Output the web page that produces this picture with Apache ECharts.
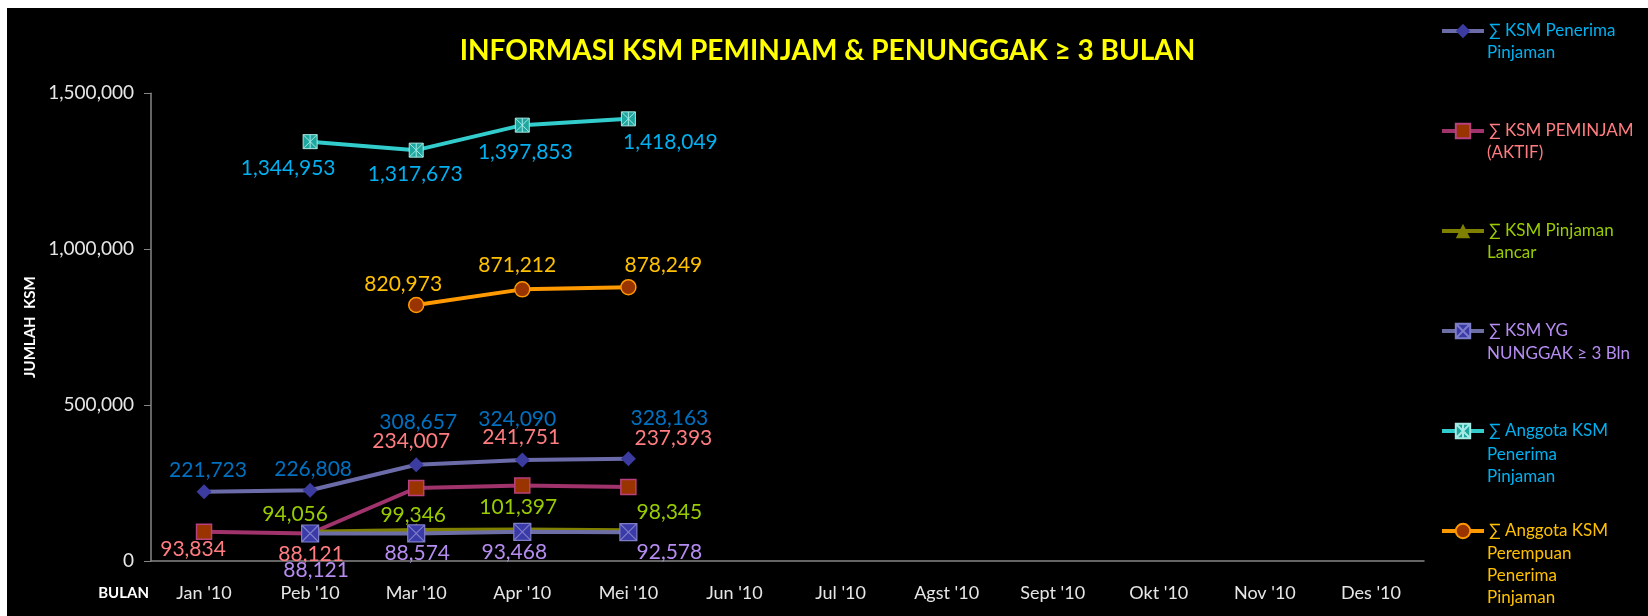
<!DOCTYPE html>
<html><head><meta charset="utf-8">
<script src="https://cdn.jsdelivr.net/npm/echarts@6/dist/echarts.min.js"></script>
<style>
html,body{margin:0;padding:0;background:#fff;width:1648px;height:616px;overflow:hidden}
#c{position:absolute;left:7px;top:8px;width:1641px;height:608px;background:#000}
</style></head><body><div id="c"></div>
<script>
// ---- data ----
const categories = ["Jan '10","Peb '10","Mar '10","Apr '10","Mei '10","Jun '10","Jul '10","Agst '10","Sept '10","Okt '10","Nov '10","Des '10"];
const penerima  = [221723, 226808, 308657, 324090, 328163, null, null, null, null, null, null, null];
const peminjam  = [93834, 88121, 234007, 241751, 237393, null, null, null, null, null, null, null];
const lancar    = [null, 94056, 99346, 101397, 98345, null, null, null, null, null, null, null];
const nunggak   = [null, 88121, 88574, 93468, 92578, null, null, null, null, null, null, null];
const anggota   = [null, 1344953, 1317673, 1397853, 1418049, null, null, null, null, null, null, null];
const perempuan = [null, null, 820973, 871212, 878249, null, null, null, null, null, null, null];
const yMin = 0, yMax = 1500000, yStep = 500000;
const seriesNames = ['∑ KSM Penerima Pinjaman','∑ KSM PEMINJAM (AKTIF)','∑ KSM Pinjaman Lancar','∑ KSM YG NUNGGAK ≥ 3 Bln','∑ Anggota KSM Penerima Pinjaman','∑ Anggota KSM Perempuan Penerima Pinjaman'];
const legendLines = [['∑ KSM Penerima','Pinjaman'],['∑ KSM PEMINJAM','(AKTIF)'],['∑ KSM Pinjaman','Lancar'],['∑ KSM YG','NUNGGAK ≥ 3 Bln'],['∑ Anggota KSM','Penerima','Pinjaman'],['∑ Anggota KSM','Perempuan','Penerima','Pinjaman']];

// ---- label placement (pixel offsets from each point) ----
const offPenerima  = [[4,-22],[3,-21],[2,-43],[-5,-41],[41,-40]];
const offPeminjam  = [[-11,17],[1,21],[-5,-47],[-1,-48],[45,-49]];
const offLancar    = [null,[-15,-17],[-3,-15],[-4,-22],[41,-18]];
const offNunggak   = [null,[6,37],[1,20],[-8,20],[41,20]];
const offAnggota   = [null,[-22,27],[-1,24],[3,27],[42,23]];
const offPerempuan = [null,null,[-13,-21],[-5,-24],[35,-22]];

const FONT = 'Lato';
const fmt = v => String(v).replace(/\B(?=(\d{3})+(?!\d))/g, ',');
const legendColors = ['#00B0F0','#FF7C80','#99CC00','#B58CF0','#00B0F0','#FFC000'];

function mk(idx, vals, offs, o) {
  return {
    name: seriesNames[idx], type: 'line',
    data: vals.map((v, i) => v == null ? '-' : { value: v, label: { offset: offs[i] || [0, 0] } }),
    symbol: o.symbol, symbolSize: o.size,
    lineStyle: { color: o.line, width: 4 },
    itemStyle: { color: o.fill, borderColor: o.border || o.fill, borderWidth: o.bw || 0 },
    label: { show: true, position: 'inside', color: o.lc, fontSize: 21, fontFamily: FONT, formatter: p => fmt(p.value) },
    emphasis: { disabled: true },
    animation: false
  };
}

const chart = echarts.init(document.getElementById('c'), null, { renderer: 'canvas' });

const legendCenters = [23, 123, 223, 324, 425, 524];
const graphics = [];
legendLines.forEach((lines, i) => {
  for (let k = 1; k < lines.length; k++) {
    graphics.push({ type: 'text', x: 1480, y: legendCenters[i] + 22 * k,
      style: { text: lines[k], fill: legendColors[i], fontSize: 17, fontFamily: FONT, verticalAlign: 'middle', align: 'left' } });
  }
});

chart.setOption({
  backgroundColor: '#000',
  animation: false,
  title: { text: 'INFORMASI KSM PEMINJAM & PENUNGGAK ≥ 3 BULAN', left: 'center', top: 29, padding: 0,
    textStyle: { color: '#FFFF00', fontSize: 28, fontWeight: 'bold', fontFamily: FONT } },
  legend: {
    orient: 'vertical', left: 1433, top: 12, padding: 0, itemWidth: 42, itemHeight: 18, itemGap: 78,
    selectedMode: false,
    lineStyle: { width: 4 },
    textStyle: { fontSize: 17, fontFamily: FONT, lineHeight: 22 },
    formatter: n => legendLines[seriesNames.indexOf(n)][0],
    data: seriesNames.map((n, i) => ({ name: n, textStyle: { color: legendColors[i] } }))
  },
  graphic: graphics,
  grid: { left: 144, right: 224, top: 85.3, bottom: 55, outerBoundsMode: 'none', containLabel: false },
  xAxis: {
    type: 'category', data: categories, boundaryGap: true,
    axisLine: { lineStyle: { color: '#868686', width: 1.5 } },
    axisTick: { length: 7, lineStyle: { color: '#868686' } },
    axisLabel: { color: '#E6E6E6', fontSize: 18, fontFamily: FONT, margin: 23, interval: 0 },
    name: 'BULAN', nameLocation: 'start', nameGap: 2,
    nameTextStyle: { color: '#fff', fontWeight: 'bold', fontSize: 15, fontFamily: FONT, verticalAlign: 'top', align: 'right', padding: [25, 0, 0, 0] }
  },
  yAxis: {
    type: 'value', min: yMin, max: yMax, interval: yStep,
    axisLine: { show: true, lineStyle: { color: '#868686', width: 1.5 } },
    axisTick: { show: true, length: 7, lineStyle: { color: '#868686' } },
    splitLine: { show: false },
    axisLabel: { color: '#E6E6E6', fontSize: 19, fontFamily: FONT, margin: 17, formatter: v => fmt(v) },
    name: 'JUMLAH  KSM', nameLocation: 'middle', nameGap: 118,
    nameTextStyle: { color: '#fff', fontWeight: 'bold', fontSize: 15, fontFamily: FONT, verticalAlign: 'middle' }
  },
  series: [
    mk(0, penerima, offPenerima, { symbol: 'diamond', size: 15, line: '#6B6BAA', fill: '#3B3BA0', lc: '#0070C0' }),
    mk(1, peminjam, offPeminjam, { symbol: 'rect', size: 15, line: '#A0336B', fill: '#993300', border: '#B8407E', bw: 1.5, lc: '#FF7C80' }),
    mk(2, lancar, offLancar, { symbol: 'triangle', size: 14, line: '#808000', fill: '#808000', lc: '#99CC00' }),
    mk(3, nunggak, offNunggak, { symbol: 'path://M0,0H20V20H0Z M0,0L20,20 M20,0L0,20', size: 17, line: '#6E6EA6', fill: '#3A3AA8', border: '#7E7EC8', bw: 1.2, lc: '#B58CF0' }),
    mk(4, anggota, offAnggota, { symbol: 'path://M0,0H20V20H0Z M0,0L20,20 M20,0L0,20 M10,0V20', size: 14, line: '#33CCCC', fill: '#1EA6A0', border: '#A6EAE4', bw: 1, lc: '#00B0F0' }),
    mk(5, perempuan, offPerempuan, { symbol: 'circle', size: 15, line: '#FF9900', fill: '#993300', border: '#FF9900', bw: 1.5, lc: '#FFC000' })
  ]
});
</script></body></html>
